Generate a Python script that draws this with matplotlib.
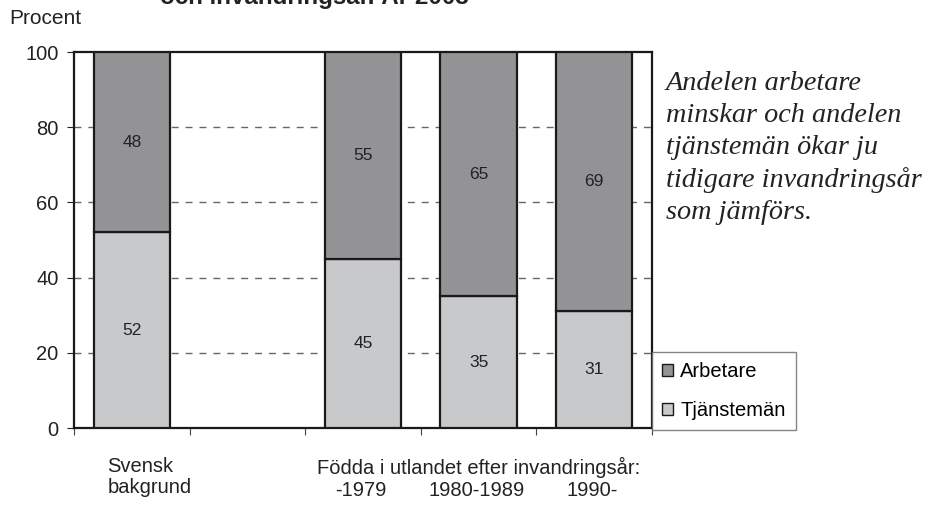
import matplotlib.pyplot as plt
from matplotlib.patches import Patch
import numpy as np

slots = ["Svensk bakgrund", "", "-1979", "1980-1989", "1990-"]
tjanstemän = [52, None, 45, 35, 31]
arbetare = [48, None, 55, 65, 69]

dark = "#939396"
light = "#c8c9cb"

plt.rcParams['font.family'] = ['Liberation Sans', 'DejaVu Sans']

fig = plt.figure(figsize=(9.26, 5.08), dpi=100)
ax = fig.add_axes([74 / 926, 1 - 428 / 508, (652 - 74) / 926, (428 - 52) / 508])

idx = [i for i, v in enumerate(tjanstemän) if v is not None]
xs = np.array(idx)
tj = np.array([tjanstemän[i] for i in idx])
ar = np.array([arbetare[i] for i in idx])

ax.bar(xs, tj, width=0.66, color=light, edgecolor="#1a1a1a", linewidth=1.6, zorder=3)
ax.bar(xs, ar, width=0.66, bottom=tj, color=dark, edgecolor="#1a1a1a", linewidth=1.6, zorder=3)

for x, a, b in zip(xs, tj, ar):
    ax.text(x, a / 2, str(a), ha="center", va="center", fontsize=12.5, color="#222222", zorder=4)
    ax.text(x, a + b / 2, str(b), ha="center", va="center", fontsize=12.5, color="#222222", zorder=4)

ax.set_xlim(-0.5, 4.5)
ax.set_ylim(0, 100)
ax.set_yticks([0, 20, 40, 60, 80, 100])
ax.tick_params(axis="y", labelsize=14.5, length=5, direction="out", pad=6, colors="#222222")
ax.set_xticks(np.arange(-0.5, 4.6, 1))
ax.set_xticklabels([])
ax.tick_params(axis="x", length=5, direction="out", color="#444444")
for y in [20, 40, 60, 80]:
    ax.axhline(y, color="#666666", linestyle=(0, (5, 5)), linewidth=1.0, zorder=1)
for s in ax.spines.values():
    s.set_linewidth(1.6)
    s.set_color("#1a1a1a")

# category labels under the axis
tr = ax.get_xaxis_transform()
ax.text(-0.21, -0.078, "Svensk\nbakgrund", transform=tr, ha="left", va="top", fontsize=14.5,
        linespacing=1.1, multialignment="left", color="#222222")
ax.text(3.0, -0.078, "Födda i utlandet efter invandringsår:", transform=tr, ha="center", va="top",
        fontsize=14.5, color="#222222")
for i in [2, 3, 4]:
    ax.text(i - 0.02, -0.14, slots[i], transform=tr, ha="center", va="top", fontsize=14.5,
            color="#222222")

fig.text(9 / 926, 1 - 18 / 508, "Procent", ha="left", va="center", fontsize=15, color="#222222")
fig.text(314 / 926, 1 - 4 / 508, "och invandringsår. År 2003", ha="center", va="baseline",
         fontsize=17.4, fontweight="bold", color="#222222")

fig.text(666 / 926, 1 - 71 / 508,
         "Andelen arbetare\nminskar och andelen\ntjänstemän ökar ju\ntidigare invandringsår\nsom jämförs.",
         ha="left", va="top", fontsize=20.3, style="italic", family="Liberation Serif",
         linespacing=1.36, color="#222222")

handles = [Patch(facecolor=dark, edgecolor="#1a1a1a", label="Arbetare"),
           Patch(facecolor=light, edgecolor="#1a1a1a", label="Tjänstemän")]
leg = fig.legend(handles=handles, loc="lower left", bbox_to_anchor=(652 / 926, 1 - 430 / 508),
                 frameon=True, fancybox=False, edgecolor="#666666", fontsize=14.5,
                 handlelength=0.55, handleheight=0.55, handletextpad=0.35, borderpad=0.5,
                 labelspacing=1.0, borderaxespad=0)
leg.get_frame().set_linewidth(1.0)

fig.savefig("out.png", dpi=100)
